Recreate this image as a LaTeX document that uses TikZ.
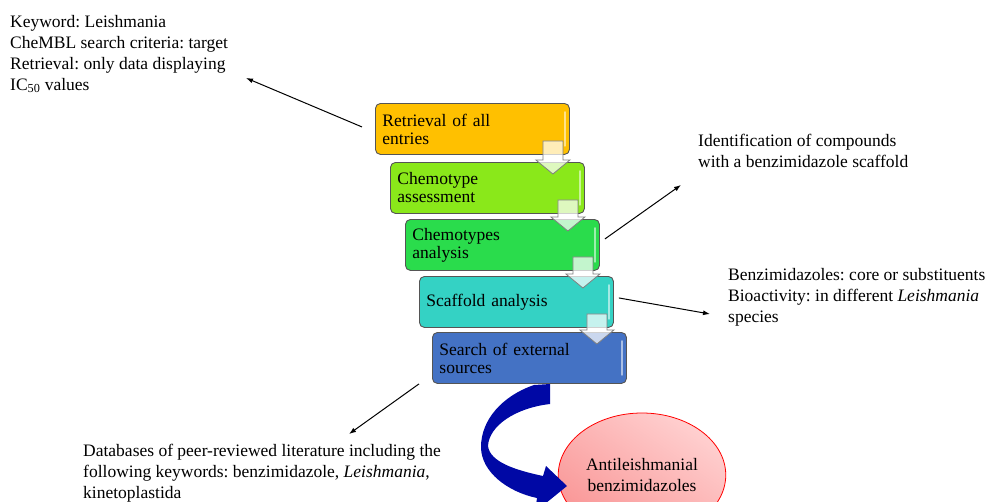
\documentclass[tikz,border=0pt]{standalone}
\usepackage{fontspec}
\setmainfont{Liberation Serif}
\frenchspacing
\usetikzlibrary{positioning,arrows.meta,shapes.geometric,calc}
\definecolor{boxOrange}{RGB}{255,192,0}
\definecolor{boxLime}{RGB}{138,232,26}
\definecolor{boxGreen}{RGB}{42,220,76}
\definecolor{boxTeal}{RGB}{52,210,196}
\definecolor{boxBlue}{RGB}{68,114,196}
\definecolor{boxEdge}{RGB}{85,85,85}
\definecolor{curveBlue}{RGB}{0,8,165}
\definecolor{pinkLight}{RGB}{255,208,208}
\definecolor{pinkDark}{RGB}{249,150,150}

\begin{document}
\begin{tikzpicture}[x=1pt, y=-1pt, font={\fontsize{17.5}{21}\selectfont},
  stepbox/.style={draw=boxEdge, line width=0.9pt, rounded corners=5pt,
    minimum width=194pt, minimum height=51pt, text width=180pt, inner sep=7pt,
    align=left, anchor=north west, font={\fontsize{17.5}{18}\selectfont}},
  note/.style={align=left, inner sep=0pt, anchor=north west},
  pointer/.style={-{Latex[length=7pt,width=5pt]}, line width=1pt}]
\useasboundingbox (0,0) rectangle (985,501);
\clip (0,0) rectangle (985,501);
% workflow boxes
\node[stepbox, fill=boxOrange] (retr)  at (375,103) {Retrieval of all\\entries};
\node[stepbox, fill=boxLime]   (chem)  at (390,162) {Chemotype\\assessment};
\node[stepbox, fill=boxGreen]  (chems) at (405,219) {Chemotypes\\analysis};
\node[stepbox, fill=boxTeal]   (scaf)  at (419,276) {Scaffold analysis};
\node[stepbox, fill=boxBlue]   (srch)  at (432,332) {Search of external\\sources};
\foreach \b in {retr,chem,chems,scaf,srch}
  \draw[white, opacity=0.55, line width=1.6pt, line cap=round]
    ($(\b.north east)+(-5,9)$) -- ($(\b.south east)+(-5,-9)$);
% small down arrows
\foreach \a/\b in {retr/chem, chem/chems, chems/scaf, scaf/srch}{
  \coordinate (t) at ($(\a.south east)+(-17,-14)$);
  \coordinate (tip) at ($(t |- \b.north)+(0,12)$);
  \filldraw[draw=gray, line width=0.8pt, fill=white, fill opacity=0.72]
    ($(t)+(-10,0)$) -- ($(t)+(10,0)$) -- ($(tip)+(10,-14)$) -- ($(tip)+(17,-14)$)
    -- (tip) -- ($(tip)+(-17,-14)$) -- ($(tip)+(-10,-14)$) -- cycle;
}
% result
\node[ellipse, draw=red, line width=0.8pt, top color=pinkLight, bottom color=pinkDark,
  shading angle=-35, minimum width=161pt, minimum height=124pt, align=center]
  (anti) at (642,475) {Antileishmanial\\benzimidazoles};
\fill[curveBlue] (550,384) -- (534,385) .. controls (502,396) and (481,420) .. (481,447)
  .. controls (481,472) and (508,492) .. (537,498)
  -- (535,512) -- (567,486) -- (546,466) -- (543,476)
  .. controls (515,470) and (490,462) .. (488,446)
  .. controls (489,426) and (515,408) .. (550,404) -- cycle;
% notes
\node[note] (kw) at (10,15) {Keyword: Leishmania\\CheMBL search criteria: target\\Retrieval: only data displaying\\IC\textsubscript{50} values};
\node[note] (ident) at (698,134) {Identification of compounds\\with a benzimidazole scaffold};
\node[note] (bio) at (728,268) {Benzimidazoles: core or substituents\\Bioactivity: in different \textit{Leishmania}\\species};
\node[note] (dbs) at (83,444) {Databases of peer-reviewed literature including the\\following keywords: benzimidazole, \textit{Leishmania},\\kinetoplastida};
\coordinate (kwtip) at (246,78);
\coordinate (idtip) at (681,185);
\coordinate (biotip) at (710,314);
\coordinate (dbtip) at (349,434);
\draw[pointer] ($(retr.west)+(-13,-2)$) -- (kwtip);
\draw[pointer] ($(chems.east)+(5,-6)$) -- (idtip);
\draw[pointer] ($(scaf.east)+(5,-4)$) -- (biotip);
\draw[pointer] ($(srch.south west)+(-13,0)$) -- (dbtip);
\end{tikzpicture}
\end{document}
